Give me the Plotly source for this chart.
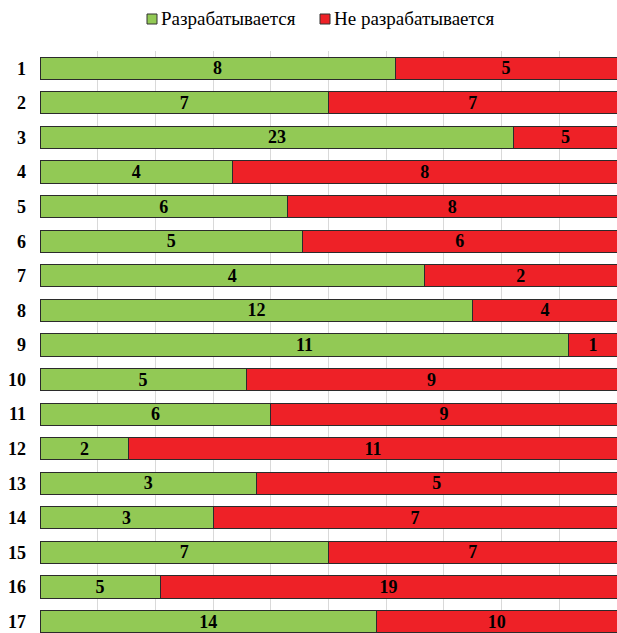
import plotly.graph_objects as go

categories = [str(i) for i in range(1, 18)]
developed = [8, 7, 23, 4, 6, 5, 4, 12, 11, 5, 6, 2, 3, 3, 7, 5, 14]
not_developed = [5, 7, 5, 8, 8, 6, 2, 4, 1, 9, 9, 11, 5, 7, 7, 19, 10]
series_names = ["Разрабатывается", "Не разрабатывается"]
colors = ["#92C955", "#EE2127"]

SERIF = "Liberation Serif"
W, H, ML, MT = 617, 633, 40, 51
PW, PH = W - ML, H - MT
ypos = list(range(len(categories)))
label_font = dict(family=SERIF, size=18, color="black")

fig = go.Figure()
for name, vals, col in zip(series_names, [developed, not_developed], colors):
    fig.add_trace(go.Bar(
        y=ypos, x=vals, name=name, orientation="h",
        marker=dict(color=col, line=dict(color="#2b2b2b", width=1)),
        text=[f"<b>{v}</b>" for v in vals], textposition="inside",
        insidetextanchor="middle", textangle=0, constraintext="none",
        textfont=label_font, hoverinfo="x+name", showlegend=False,
    ))

# legend drawn as small bordered squares followed by the series names
def px_x(p):
    return (p - ML) / PW

def px_y(p):
    return (H - p) / PH

legend_x = [147, 320]
for name, col, lx in zip(series_names, colors, legend_x):
    fig.add_shape(type="rect", xref="paper", yref="paper",
                  x0=px_x(lx), x1=px_x(lx + 10),
                  y0=px_y(24), y1=px_y(14),
                  fillcolor=col, line=dict(color="#333333", width=1))
    fig.add_annotation(text=name, xref="paper", yref="paper",
                       x=px_x(lx + 12), y=px_y(19),
                       xanchor="left", yanchor="middle", showarrow=False,
                       font=dict(family=SERIF, size=19, color="black"))

fig.update_layout(
    width=W, height=H,
    barmode="stack", barnorm="percent", bargap=0.36,
    margin=dict(l=ML, r=0, t=MT, b=0, autoexpand=False),
    plot_bgcolor="white", paper_bgcolor="white",
    font=dict(family=SERIF),
)
fig.update_xaxes(range=[0, 100], dtick=10, showgrid=True, gridcolor="#d9d9d9",
                 gridwidth=1, showticklabels=False, zeroline=False, showline=False)
fig.update_yaxes(range=[16.33, -0.5], tickmode="array", tickvals=ypos,
                 ticktext=[f"<b>{c}</b>" for c in categories],
                 tickfont=dict(family=SERIF, size=18, color="black"),
                 ticks="", ticklen=0, ticklabelstandoff=13,
                 showgrid=False, zeroline=False, showline=False)

fig.write_html("out.html")
